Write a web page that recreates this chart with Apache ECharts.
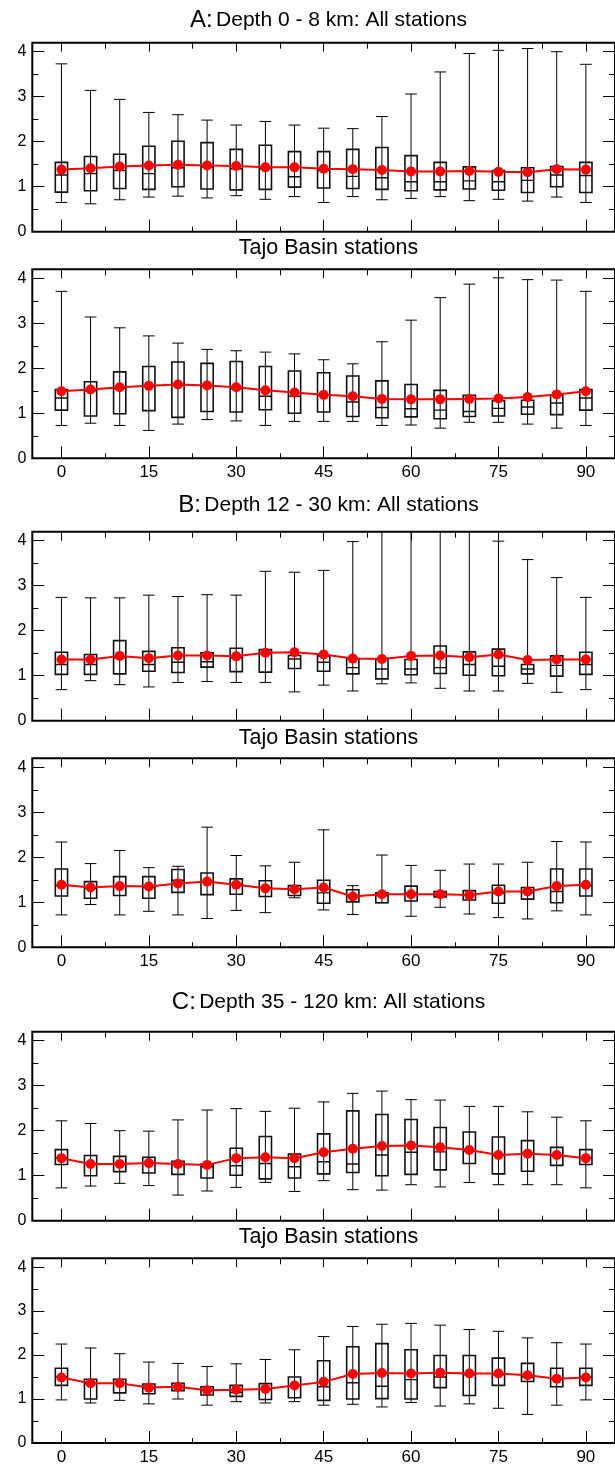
<!DOCTYPE html>
<html>
<head>
<meta charset="utf-8">
<script src="https://cdn.jsdelivr.net/npm/echarts@6/dist/echarts.min.js"></script>
<style>
html,body{margin:0;padding:0;background:#fff;}
#chart{width:615px;height:1466px;}
</style>
</head>
<body>
<div id="chart"></div>
<script>
// ---------- data ----------
const azimuths = [0,5,10,15,20,25,30,35,40,45,50,55,60,65,70,75,80,85,90];
const xMajorTicks = [0,15,30,45,60,75,90];
const xMinorTicks = [7.5,22.5,37.5,52.5,67.5,82.5];
const yMajorTicks = [0,1,2,3,4];
const yMinorTicks = [0.5,1.5,2.5,3.5];

const panelTitles = [
  ['A:', 'Depth 0 - 8 km: All stations'],
  ['', 'Tajo Basin stations'],
  ['B:', 'Depth 12 - 30 km: All stations'],
  ['', 'Tajo Basin stations'],
  ['C:', 'Depth 35 - 120 km: All stations'],
  ['', 'Tajo Basin stations']
];

// box statistics per azimuth: [low whisker, Q1, median, Q3, high whisker]
const boxesAAll = [
  [0.65,0.88,1.26,1.54,3.73],[0.62,0.91,1.29,1.67,3.14],[0.71,0.96,1.36,1.72,2.94],
  [0.77,0.94,1.29,1.90,2.65],[0.79,1.00,1.42,2.01,2.60],[0.75,0.95,1.44,1.98,2.48],
  [0.80,0.93,1.40,1.83,2.37],[0.72,0.94,1.40,1.92,2.45],[0.78,0.99,1.22,1.78,2.37],
  [0.65,0.97,1.36,1.78,2.30],[0.78,0.96,1.23,1.83,2.29],[0.71,0.94,1.20,1.87,2.56],
  [0.74,0.91,1.11,1.69,3.06],[0.78,0.93,1.11,1.54,3.55],[0.69,0.95,1.13,1.44,3.96],
  [0.72,0.92,1.11,1.36,4.03],[0.68,0.87,1.14,1.42,4.07],[0.77,1.00,1.26,1.45,4.00],
  [0.65,0.87,1.25,1.54,3.72]
];
const meansAAll = [1.38,1.41,1.45,1.47,1.49,1.47,1.46,1.43,1.43,1.40,1.39,1.37,1.34,1.34,1.35,1.33,1.32,1.39,1.38];

const boxesATajo = [
  [0.73,1.07,1.34,1.53,3.71],[0.78,0.94,1.50,1.70,3.14],[0.73,0.99,1.55,1.92,2.90],
  [0.62,1.06,1.60,2.04,2.72],[0.76,0.91,1.62,2.14,2.56],[0.86,1.04,1.60,2.11,2.42],
  [0.83,1.03,1.55,2.15,2.39],[0.73,1.08,1.38,2.04,2.36],[0.82,1.00,1.38,1.94,2.32],
  [0.82,1.03,1.40,1.90,2.19],[0.82,0.93,1.25,1.83,2.10],[0.73,0.90,1.13,1.72,2.59],
  [0.74,0.92,1.10,1.64,3.07],[0.67,0.88,1.07,1.51,3.57],[0.80,0.93,1.04,1.40,3.87],
  [0.80,0.94,1.11,1.28,4.01],[0.76,0.98,1.14,1.29,3.97],[0.67,0.97,1.23,1.40,3.96],
  [0.73,1.07,1.34,1.53,3.71]
];
const meansATajo = [1.49,1.53,1.58,1.61,1.64,1.62,1.58,1.51,1.46,1.41,1.38,1.32,1.31,1.31,1.32,1.33,1.36,1.42,1.49];

const boxesBAll = [
  [0.69,1.03,1.25,1.52,2.74],[0.89,1.03,1.25,1.47,2.73],[0.80,1.04,1.40,1.78,2.73],
  [0.75,1.10,1.25,1.54,2.79],[0.85,1.07,1.30,1.62,2.76],[0.87,1.19,1.31,1.51,2.80],
  [0.85,1.09,1.40,1.61,2.79],[0.85,1.08,1.48,1.58,3.32],[0.64,1.16,1.37,1.45,3.30],
  [0.79,1.10,1.30,1.44,3.34],[0.66,1.04,1.18,1.38,3.98],[0.82,0.93,1.15,1.38,4.60],
  [0.84,1.02,1.15,1.36,4.60],[0.72,1.05,1.18,1.66,4.60],[0.66,1.01,1.25,1.53,4.60],
  [0.66,1.00,1.21,1.59,3.99],[0.83,1.04,1.15,1.25,3.58],[0.63,0.99,1.23,1.44,3.18],
  [0.69,1.03,1.25,1.52,2.74]
];
const meansBAll = [1.36,1.36,1.44,1.39,1.45,1.45,1.43,1.51,1.52,1.47,1.38,1.37,1.44,1.45,1.41,1.47,1.35,1.36,1.36];

const boxesBTajo = [
  [0.72,1.14,1.37,1.74,2.34],[0.95,1.09,1.31,1.46,1.86],[0.72,1.15,1.35,1.57,2.15],
  [0.80,1.09,1.33,1.57,1.77],[0.72,1.22,1.49,1.73,1.80],[0.64,1.17,1.45,1.65,2.67],
  [0.82,1.18,1.40,1.52,2.04],[0.77,1.13,1.32,1.48,1.81],[1.10,1.15,1.28,1.37,1.89],
  [0.83,0.98,1.21,1.49,2.61],[0.73,1.01,1.15,1.28,1.37],[0.99,0.99,1.15,1.21,2.05],
  [0.69,1.03,1.20,1.36,1.82],[0.89,1.12,1.18,1.24,1.71],[0.74,1.05,1.17,1.26,1.85],
  [0.66,0.98,1.20,1.38,1.85],[0.63,1.07,1.22,1.33,1.89],[0.81,0.99,1.24,1.74,2.35],
  [0.72,1.14,1.37,1.74,2.34]
];
const meansBTajo = [1.39,1.33,1.36,1.35,1.42,1.46,1.39,1.31,1.29,1.33,1.13,1.18,1.18,1.18,1.16,1.24,1.24,1.36,1.39];

const boxesCAll = [
  [0.73,1.25,1.40,1.58,2.22],[0.77,1.00,1.27,1.45,2.16],[0.83,1.09,1.25,1.43,2.00],
  [0.78,1.06,1.28,1.41,1.99],[0.57,1.03,1.25,1.32,2.24],[0.66,0.95,1.20,1.26,2.46],
  [0.74,1.01,1.22,1.61,2.49],[0.85,0.93,1.27,1.87,2.43],[0.65,0.95,1.20,1.48,2.50],
  [0.89,1.04,1.31,1.93,2.64],[0.69,1.07,1.26,2.44,2.83],[0.68,1.00,1.46,2.36,2.88],
  [0.80,1.03,1.52,2.25,2.69],[0.75,1.13,1.53,2.07,2.68],[0.85,1.27,1.55,1.97,2.54],
  [0.80,1.04,1.45,1.86,2.54],[0.80,1.10,1.50,1.78,2.42],[0.80,1.23,1.45,1.63,2.30],
  [0.73,1.25,1.40,1.58,2.22]
];
const meansCAll = [1.39,1.26,1.26,1.28,1.26,1.24,1.39,1.41,1.39,1.52,1.60,1.66,1.67,1.63,1.57,1.46,1.49,1.46,1.39];

const boxesCTajo = [
  [0.98,1.31,1.50,1.70,2.25],[0.91,1.00,1.35,1.45,2.16],[0.97,1.14,1.35,1.45,2.03],
  [0.89,1.12,1.25,1.34,1.84],[1.00,1.19,1.28,1.36,1.81],[0.86,1.09,1.20,1.28,1.74],
  [0.94,1.06,1.15,1.31,1.80],[0.91,0.99,1.22,1.35,1.90],[0.94,1.03,1.30,1.50,2.12],
  [0.86,0.97,1.28,1.87,2.42],[0.88,1.00,1.37,2.19,2.65],[0.82,1.01,1.29,2.26,2.70],
  [0.92,1.00,1.44,2.12,2.72],[0.84,1.26,1.50,1.99,2.68],[0.89,1.08,1.55,1.99,2.58],
  [0.79,1.31,1.55,1.93,2.54],[0.65,1.40,1.50,1.81,2.39],[0.86,1.28,1.45,1.70,2.28],
  [0.98,1.31,1.50,1.70,2.25]
];
const meansCTajo = [1.49,1.36,1.36,1.26,1.28,1.20,1.21,1.23,1.31,1.39,1.57,1.59,1.58,1.60,1.58,1.58,1.54,1.46,1.49];

const panelBoxes = [boxesAAll, boxesATajo, boxesBAll, boxesBTajo, boxesCAll, boxesCTajo];
const panelMeans = [meansAAll, meansATajo, meansBAll, meansBTajo, meansCAll, meansCTajo];

// ---------- layout ----------
const FONT = 'Liberation Sans, Arial, Helvetica, sans-serif';
const gridTops = [42.7, 269.3, 531.7, 758.3, 1031.7, 1258.3];
const titleYs = [20.7, 248.3, 505, 738.3, 1002, 1237.3];
const GRID_LEFT = 32.3, GRID_W = 592.4, GRID_H = 189;
const showXLabels = [false, true, false, true, false, true];

const chart = echarts.init(document.getElementById('chart'), null, {renderer: 'canvas'});

const grids = [], xAxes = [], yAxes = [], series = [], graphics = [];

function xAxisDef(gi, pos, ticks, len, labels) {
  return {
    type: 'value', gridIndex: gi, position: pos, min: -5, max: 95,
    axisLine: {show: false, onZero: false}, splitLine: {show: false},
    axisTick: {show: true, inside: true, length: len, customValues: ticks,
      lineStyle: {color: '#000', width: 1}},
    axisLabel: {show: labels, customValues: ticks, margin: 6,
      fontFamily: FONT, fontSize: 17, color: '#000'}
  };
}
function yAxisDef(gi, pos, ticks, len, labels) {
  return {
    type: 'value', gridIndex: gi, position: pos, min: 0, max: 4.2,
    axisLine: {show: false, onZero: false}, splitLine: {show: false},
    axisTick: {show: true, inside: true, length: len, customValues: ticks,
      lineStyle: {color: '#000', width: 1}},
    axisLabel: {show: labels, customValues: ticks, margin: 6,
      fontFamily: FONT, fontSize: 16, color: '#000'}
  };
}

function renderBox(params, api) {
  const x = api.value(0);
  const lo = api.coord([x, api.value(1)]);
  const q1 = api.coord([x, api.value(2)]);
  const md = api.coord([x, api.value(3)]);
  const q3 = api.coord([x, api.value(4)]);
  const hi = api.coord([x, api.value(5)]);
  const step = api.size([5, 0])[0];
  const bw = step * 0.42;
  const cw = step * 0.4;
  const cx = lo[0];
  const wStyle = {stroke: '#000', lineWidth: 1};
  const bStyle = {stroke: '#111', lineWidth: 1.6, fill: 'none'};
  return {
    type: 'group',
    children: [
      {type: 'line', shape: {x1: cx, y1: hi[1], x2: cx, y2: lo[1]}, style: wStyle},
      {type: 'line', shape: {x1: cx - cw / 2, y1: hi[1], x2: cx + cw / 2, y2: hi[1]}, style: wStyle},
      {type: 'line', shape: {x1: cx - cw / 2, y1: lo[1], x2: cx + cw / 2, y2: lo[1]}, style: wStyle},
      {type: 'rect', shape: {x: cx - bw / 2, y: q3[1], width: bw, height: q1[1] - q3[1]}, style: bStyle},
      {type: 'line', shape: {x1: cx - bw / 2, y1: md[1], x2: cx + bw / 2, y2: md[1]}, style: {stroke: '#111', lineWidth: 1.4}}
    ]
  };
}

for (let g = 0; g < 6; g++) {
  grids.push({left: GRID_LEFT, top: gridTops[g], width: GRID_W, height: GRID_H,
    show: true, borderColor: '#000', borderWidth: 2, backgroundColor: 'transparent'});
  const xb = xAxes.length;
  xAxes.push(xAxisDef(g, 'bottom', xMajorTicks, 12, showXLabels[g]));
  xAxes.push(xAxisDef(g, 'bottom', xMinorTicks, 5, false));
  xAxes.push(xAxisDef(g, 'top', xMajorTicks, 9, false));
  xAxes.push(xAxisDef(g, 'top', xMinorTicks, 6, false));
  const yb = yAxes.length;
  yAxes.push(yAxisDef(g, 'left', yMajorTicks, 12, true));
  yAxes.push(yAxisDef(g, 'left', yMinorTicks, 6, false));
  yAxes.push(yAxisDef(g, 'right', yMajorTicks, 12, false));
  yAxes.push(yAxisDef(g, 'right', yMinorTicks, 6, false));

  const boxData = azimuths.map((a, i) => [a].concat(panelBoxes[g][i]));
  series.push({
    type: 'custom', xAxisIndex: xb, yAxisIndex: yb, clip: true,
    renderItem: renderBox, data: boxData, z: 2, silent: true
  });
  series.push({
    type: 'line', xAxisIndex: xb, yAxisIndex: yb,
    data: azimuths.map((a, i) => [a, panelMeans[g][i]]),
    symbol: 'circle', symbolSize: 10, showSymbol: true,
    lineStyle: {color: '#ff0000', width: 2},
    itemStyle: {color: '#ff0000'}, z: 5, silent: true
  });

  const t = panelTitles[g];
  graphics.push({
    type: 'text', x: GRID_LEFT + GRID_W / 2, y: titleYs[g],
    style: {
      text: t[0] ? '{big|' + t[0] + '} {n|' + t[1] + '}' : '{t|' + t[1] + '}',
      align: 'center', verticalAlign: 'middle',
      rich: {
        big: {fontFamily: FONT, fontSize: 24, fill: '#000'},
        n: {fontFamily: FONT, fontSize: 21, fill: '#000'},
        t: {fontFamily: FONT, fontSize: 21.5, fill: '#000'}
      }
    }
  });
}

chart.setOption({
  animation: false,
  backgroundColor: '#fff',
  grid: grids,
  xAxis: xAxes,
  yAxis: yAxes,
  series: series,
  graphic: graphics
});
</script>
</body>
</html>
